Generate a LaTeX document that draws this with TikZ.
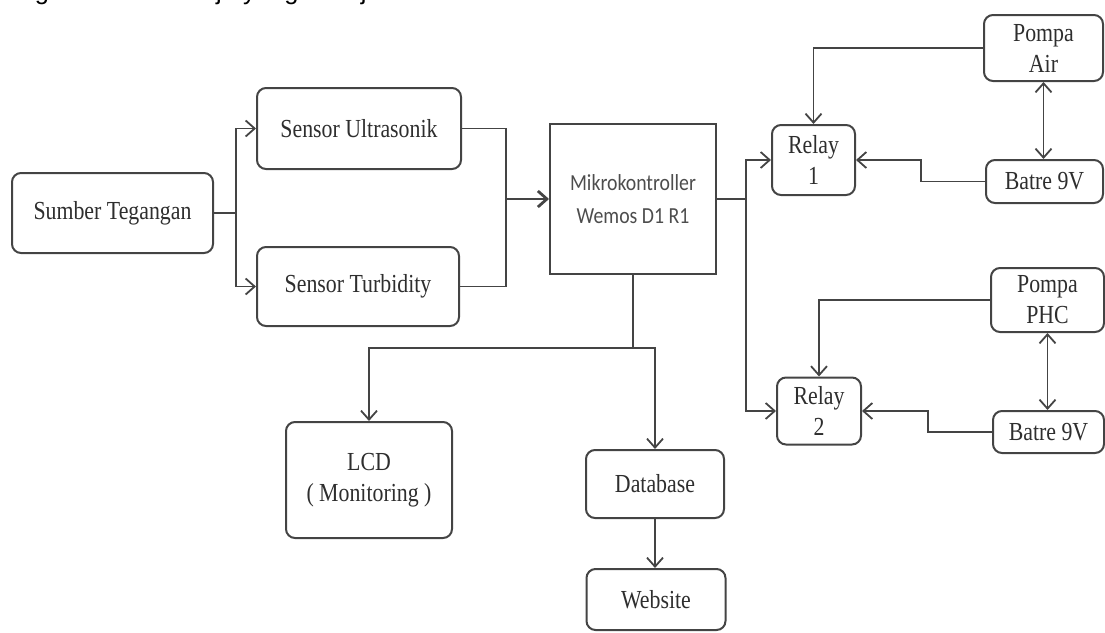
\documentclass[tikz,border=0pt]{standalone}
\usepackage{fontspec}
\setmainfont{Liberation Serif}[FakeStretch=0.84]
\newfontfamily\calibrifont{Carlito}[FakeStretch=0.86]
\newfontfamily\arialfont{Liberation Sans}
\usetikzlibrary{arrows.meta}

\definecolor{garis}{HTML}{444444}
\definecolor{teks}{HTML}{2E2E2E}

\tikzset{
  blok/.style={draw=garis, line width=2pt, rounded corners=9pt, align=center,
    text=teks, inner sep=0pt, font=\fontsize{26}{31}\selectfont},
  panah/.style={-{Straight Barb[length=9pt,width=16pt]}},
  panahdua/.style={{Straight Barb[length=9pt,width=16pt]}-{Straight Barb[length=9pt,width=16pt]}},
}

\begin{document}
\begin{tikzpicture}[x=1pt, y=-1pt, line width=1.8pt, color=garis]
    \useasboundingbox (0,0) rectangle (1105,632);

    % potongan teks di atas gambar
    \node[anchor=base west, inner sep=0pt, text=black, font=\arialfont\fontsize{25.5}{30}\selectfont] (judul) at (0,-1) {diagram sistem kerja yang ditunjukkan.};

    \draw(112.5,213) node [blok, minimum width=201pt, minimum height=80pt](sumber){Sumber Tegangan};
    \draw(359,128.5) node [blok, minimum width=204pt, minimum height=81pt](ultra){Sensor Ultrasonik};
    \draw(358,286.5) node [blok, minimum width=202pt, minimum height=79pt](turb){Sensor Turbidity};

    \draw(633,199) node [blok, rounded corners=0pt, minimum width=166pt, minimum height=150pt, text=teks!85,
        font=\calibrifont\fontsize{23}{33}\selectfont](mikro){Mikrokontroller\\Wemos D1 R1};

    \draw(813.5,160) node [blok, minimum width=83pt, minimum height=70pt](relay1){Relay\\1};
    \draw(1043.5,48) node [blok, minimum width=119pt, minimum height=66pt](pompaair){Pompa\\Air};
    \draw(1044.5,181.5) node [blok, minimum width=117pt, minimum height=43pt](batre1){Batre 9V};

    \draw(819,411) node [blok, minimum width=84pt, minimum height=67pt](relay2){Relay\\2};
    \draw(1047.5,300) node [blok, minimum width=113pt, minimum height=64pt](pompaphc){Pompa\\PHC};
    \draw(1048.5,432) node [blok, minimum width=111pt, minimum height=42pt](batre2){Batre 9V};

    \draw(369,480) node [blok, minimum width=166pt, minimum height=116pt](lcd){LCD\\( Monitoring )};
    \draw(655,484) node [blok, minimum width=138pt, minimum height=68pt](database){Database};
    \draw(656,599.5) node [blok, minimum width=139pt, minimum height=61pt](website){Website};

    % sumber ke sensor
    \coordinate (cabang1) at (236,213);
    \draw (sumber.east) -- (cabang1);
    \draw[panah] (cabang1) |- (ultra.west);
    \draw[panah] (cabang1) |- (turb.west);

    % sensor ke mikrokontroller
    \coordinate (gabung) at (506,199);
    \draw (ultra.east) -| (gabung);
    \draw (turb.east) -| (gabung);
    \draw[panah, line width=2.8pt] (gabung) -- (mikro.west);

    % mikrokontroller ke relay
    \coordinate (cabang2) at (746,199);
    \draw (mikro.east) -- (cabang2);
    \draw[panah] (cabang2) |- (relay1.west);
    \draw[panah] (cabang2) |- (relay2.west);

    \draw[panah] (pompaair.west) -| (relay1.north);
    \draw[panah] (batre1.west) -| (921,160) -- (relay1.east);
    \draw[panahdua] (pompaair.south) -- (pompaair.south |- batre1.north);

    \draw[panah] (pompaphc.west) -| (relay2.north);
    \draw[panah] (batre2.west) -| (928,411) -- (relay2.east);
    \draw[panahdua] (pompaphc.south) -- (pompaphc.south |- batre2.north);

    % mikrokontroller ke lcd dan database
    \coordinate (cabang3) at (633,348);
    \draw (mikro.south) -- (cabang3);
    \draw[panah] (cabang3) -| (lcd.north);
    \draw[panah] (cabang3) -| (database.north);
    \draw[panah] (database.south) -- (database.south |- website.north);

\end{tikzpicture}
\end{document}
